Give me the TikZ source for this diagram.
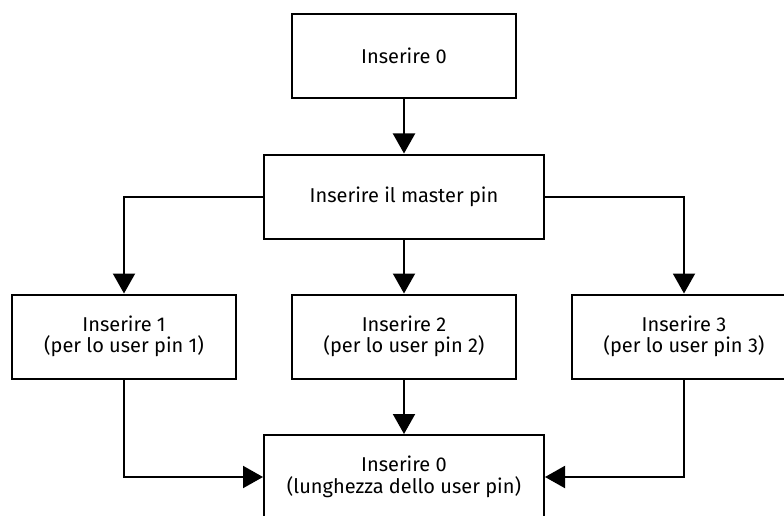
\documentclass[tikz,border=0pt]{standalone}
\usepackage{fontspec}
\setmainfont{Fira Sans}
\usetikzlibrary{arrows.meta}

\begin{document}
\begin{tikzpicture}[x=1pt,y=-1pt]
\useasboundingbox (0,0) rectangle (784,516);
\clip (0,0) rectangle (784,516);

\tikzstyle{pinbox}=[draw,line width=2pt,minimum width=224pt,minimum height=84pt,
  inner sep=0pt,align=center,font=\fontsize{20}{21.5}\selectfont]
\tikzstyle{widebox}=[pinbox,minimum width=280pt]
\tikzstyle{pinarrow}=[line width=2pt,-{Triangle[length=20pt,width=22pt]}]

%% Start and master pin
\node [pinbox] (start) at (404,56) {Inserire 0};
\node [widebox] (master) at (404,196.5) {Inserire il master pin};

%% One box for each user pin
\foreach \i/\x in {1/124,2/404,3/684}
	\node [pinbox] (pin\i) at (\x,336.5) {Inserire \i\\(per lo user pin \i)};

%% Length of the user pin
\node [widebox] (length) at (404,477) {Inserire 0\\(lunghezza dello user pin)};

% Arrows
\draw[pinarrow] (start) -- (master);
\draw[pinarrow] (master.west) -| (pin1);
\draw[pinarrow] (master) -- (pin2);
\draw[pinarrow] (master.east) -| (pin3);
\draw[pinarrow] (pin1) |- (length.west);
\draw[pinarrow] (pin2) -- (length);
\draw[pinarrow] (pin3) |- (length.east);

\end{tikzpicture}
\end{document}
